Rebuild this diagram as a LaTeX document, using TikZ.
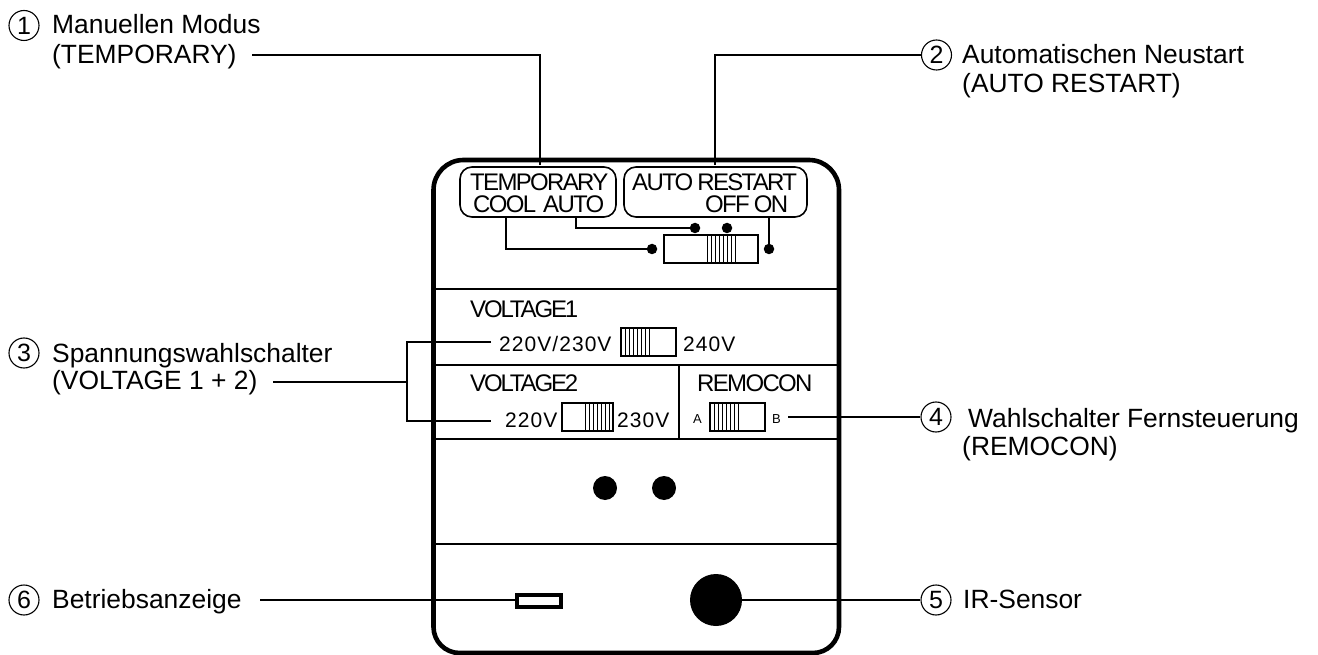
\documentclass[tikz,border=0pt]{standalone}
\usepackage{fontspec}
\setmainfont{Liberation Sans}
\newfontfamily\tight[LetterSpace=-7]{Liberation Sans}
\newfontfamily\tighter[LetterSpace=-9]{Liberation Sans}
\newfontfamily\wide[LetterSpace=5]{Liberation Sans}
\begin{document}
\begin{tikzpicture}[x=1pt,y=-1pt,
  lead/.style={draw=black,line width=1.6pt},
  thin/.style={draw=black,line width=1.3pt},
  sep/.style={draw=black,line width=1.8pt},
  lab/.style={anchor=base west,inner sep=0pt,align=left,font=\fontsize{26.4}{26.4}\selectfont},
  num/.style={circle,draw=black,line width=1.1pt,minimum size=30pt,inner sep=0pt,font=\fontsize{25}{25}\selectfont},
  pan/.style={anchor=base west,inner sep=0pt,font=\fontsize{24}{24}\selectfont\tight},
  pant/.style={anchor=base west,inner sep=0pt,font=\fontsize{24}{24}\selectfont\tighter},
  val/.style={anchor=base west,inner sep=0pt,font=\fontsize{21}{21}\selectfont\wide},
  tiny/.style={anchor=base west,inner sep=0pt,font=\fontsize{13}{13}\selectfont},
  sw/.style={draw=black,line width=1.6pt,fill=white,minimum height=28pt,inner sep=0pt},
  dot/.style={circle,fill=black,inner sep=0pt,minimum size=10.5pt},
  hole/.style={circle,fill=black,inner sep=0pt,minimum size=24pt},
  lbox/.style={draw=black,line width=1.6pt,rounded corners=12pt,inner sep=0pt,minimum height=50pt},
  hatch/.style={line width=.8pt}]
\useasboundingbox (0,0) rectangle (1318,655);
% body
\draw[line width=4.6pt] (433.5,400) [rounded corners=30pt] -- (433.5,160) -- (839,160) -- (839,400) [rounded corners=26pt] -- (839,653) -- (433.5,653) -- cycle;
\draw[sep] (433,289) -- (839,289);
\draw[sep] (433,365) -- (839,365);
\draw[sep] (433,439) -- (839,439);
\draw[sep] (433,544) -- (839,544);
\draw[sep] (679,365) -- (679,439);
% label boxes
\node[lbox,minimum width=156pt] (tb) at (538,192) {};
\node[lbox,minimum width=183pt] (ab) at (715.5,192) {};
\node[pan] (t1) at (470,191) {TEMPORARY};
\node[pan] (t2) at (473,213) {COOL\hspace{7pt}AUTO};
\node[pan] (t3) at (632,191) {AUTO\hspace{-1pt} RESTART};
\node[pan] (t4) at (705,213) {OFF\hspace{-1pt} ON};
% top switch
\node[sw,minimum width=94pt] (s0) at (711,249) {};
\foreach \x in {707,711,715,719,723,727,731,735} \draw[hatch] (\x,235) -- (\x,263);
\node[dot] (d1) at (695,228) {};
\node[dot] (d2) at (727,228) {};
\node[dot] (d3) at (652,249) {};
\node[dot] (d4) at (769,249) {};
\coordinate (p1) at (506,217);
\coordinate (p2) at (576,217);
\coordinate (p3) at (769,217);
\draw[thin] (p1) |- (d3);
\draw[thin] (p2) |- (d1);
\draw[thin] (p3) -- (d4);
% panels
\node[pant] (v1) at (470,317) {VOLTAGE1};
\node[pant] (v2) at (470,391) {VOLTAGE2};
\node[pan] (rc) at (697,391) {REMOCON};
\node[val] (a1) at (499,351) {220V/230V};
\node[val] (a2) at (683,351) {240V};
\node[val] (a3) at (505,427) {220V};
\node[val] (a4) at (617,427) {230V};
\node[tiny] (aa) at (693,423) {A};
\node[tiny] (ab2) at (772,423) {B};
% switches
\node[sw,minimum width=55pt] (s1) at (648.5,342) {};
\foreach \x in {625,629,633,637,641,645,649} \draw[hatch] (\x,328) -- (\x,356);
\node[sw,minimum width=51pt] (s2) at (587.5,417) {};
\foreach \x in {585,589,593,597,601,605,609} \draw[hatch] (\x,403) -- (\x,431);
\node[sw,minimum width=55pt] (s3) at (737.5,417) {};
\foreach \x in {714,718,722,726,730,734,738} \draw[hatch] (\x,403) -- (\x,431);
% holes
\node[hole] (h1) at (605,488) {};
\node[hole] (h2) at (664,488) {};
\node[draw=black,line width=4.2pt,minimum width=44pt,minimum height=12pt,inner sep=0pt] (ind) at (539,601) {};
\node[circle,fill=black,inner sep=0pt,minimum size=52pt] (ir) at (716,600) {};
% callouts
\node[num] (n1) at (24,25.5) {1};
\node[num] (n2) at (936.5,55) {2};
\node[num] (n3) at (24,353) {3};
\node[num] (n4) at (936,417) {4};
\node[num] (n5) at (936,600) {5};
\node[num] (n6) at (24,600) {6};
\node[lab] (l1a) at (52,34) {Manuellen Modus};
\node[lab] (l1b) at (52,63.5) {(TEMPORARY)};
\node[lab] (l2a) at (962,64) {Automatischen Neustart};
\node[lab] (l2b) at (962,93) {(AUTO RESTART)};
\node[lab] (l3a) at (52,362) {Spannungswahlschalter};
\node[lab] (l3b) at (52,389) {(VOLTAGE 1 + 2)};
\node[lab] (l4a) at (968,427) {Wahlschalter Fernsteuerung};
\node[lab] (l4b) at (962,455) {(REMOCON)};
\node[lab] (l5) at (963,608) {IR-Sensor};
\node[lab] (l6) at (52,608) {Betriebsanzeige};
% leaders
\coordinate (c1) at (252,55);
\coordinate (c1e) at (540,165);
\draw[lead] (c1) -| (c1e);
\coordinate (c2e) at (715,165);
\draw[lead] (n2) -| (c2e);
\coordinate (c3) at (273,382);
\coordinate (c3j) at (407,382);
\coordinate (c3a) at (491,342);
\coordinate (c3b) at (491,421);
\draw[lead] (c3) -- (c3j);
\draw[lead] (c3a) -| (c3j) |- (c3b);
\coordinate (c4) at (788,417);
\draw[lead] (c4) -- (n4);
\draw[lead] (ir) -- (n5);
\coordinate (c6) at (260,600);
\draw[lead] (c6) -- (c6 -| ind.west);
\end{tikzpicture}
\end{document}
